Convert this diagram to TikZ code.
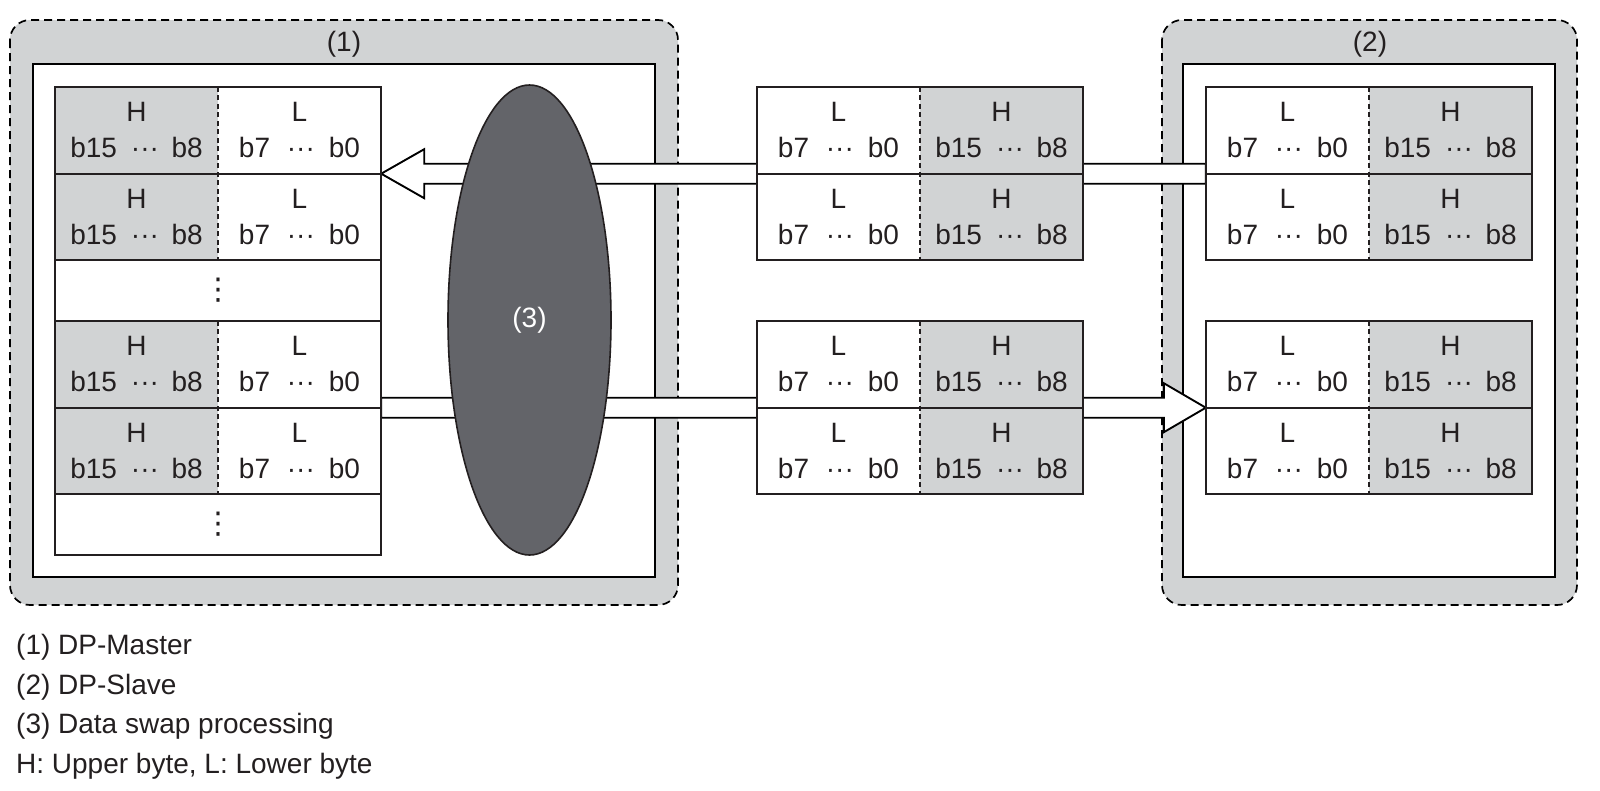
\documentclass[tikz,border=0pt]{standalone}
\usepackage{xcolor}
\usepackage{fontspec}
\setmainfont{Liberation Sans}
\newfontfamily\dotsfont{DejaVu Sans}
\usepackage{tikz}
\usetikzlibrary{shapes.geometric,calc}
\definecolor{ink}{RGB}{35,31,32}
\definecolor{bandgray}{RGB}{209,211,212}
\definecolor{swapgray}{RGB}{99,100,105}
\newcommand{\hibits}{b15\hspace{0.5em}···\hspace{0.45em}b8}
\newcommand{\lobits}{b7\hspace{0.6em}···\hspace{0.5em}b0}
\pgfdeclarelayer{boxes}
\pgfdeclarelayer{flows}
\pgfsetlayers{boxes,flows,main}

\begin{document}
\begin{tikzpicture}[x=1pt, y=-1pt, color=ink, font=\fontsize{28}{36}\selectfont,
    stationbox/.style={fill=bandgray, line width=1.7pt, dash pattern=on 8pt off 5pt, rounded corners=20pt},
    innerbox/.style={fill=white, line width=2.4pt},
    hcell/.style={fill=bandgray, minimum width=163pt, minimum height=86.5pt, inner sep=0pt, align=center},
    lcell/.style={hcell, fill=white},
    dotcell/.style={draw, line width=2.4pt, fill=white, minimum width=326pt, minimum height=61pt, inner sep=0pt, font=\dotsfont\fontsize{30}{30}\selectfont},
    rowframe/.style={line width=2.4pt},
    divider/.style={line width=1.8pt, dash pattern=on 5pt off 3.5pt},
    flowarrow/.style={fill=white, line width=1.9pt},
    swapnode/.style={ellipse, draw, line width=1.6pt, fill=swapgray, text=white, minimum width=163pt, minimum height=470pt, inner sep=0pt}]
    \useasboundingbox (0,0) rectangle (1600,790);

    \begin{pgfonlayer}{boxes}
    \draw[stationbox] (10,20) rectangle (678,605);
    \draw[innerbox] (33,64) rectangle (655,577);
    \node (master) at (344,44) {(1)};
    \draw[stationbox] (1162,20) rectangle (1577,605);
    \draw[innerbox] (1183,64) rectangle (1555,577);
    \node (slave) at (1370,44) {(2)};
    \end{pgfonlayer}

    % master words
    \node[hcell] (mh1) at (136.5,130.25) {H\\\hibits};
    \node[lcell] (ml1) at (299.5,130.25) {L\\\lobits};
    \node[hcell] (mh2) at (136.5,216.75) {H\\\hibits};
    \node[lcell] (ml2) at (299.5,216.75) {L\\\lobits};
    \node[dotcell] (md1) at (218,290.5) {⋮};
    \node[hcell] (mh4) at (136.5,364.25) {H\\\hibits};
    \node[lcell] (ml4) at (299.5,364.25) {L\\\lobits};
    \node[hcell] (mh5) at (136.5,450.75) {H\\\hibits};
    \node[lcell] (ml5) at (299.5,450.75) {L\\\lobits};
    \node[dotcell] (md2) at (218,524.5) {⋮};
    \draw[rowframe] (mh1.north west) rectangle (ml2.south east) (mh1.south west) -- (ml1.south east);
    \draw[rowframe] (mh4.north west) rectangle (ml5.south east) (mh4.south west) -- (ml4.south east);
    \draw[divider] (mh1.north east) -- (mh2.south east);
    \draw[divider] (mh4.north east) -- (mh5.south east);

    % words on the line
    \node[lcell] (xl1) at (838.5,130.25) {L\\\lobits};
    \node[hcell] (xh1) at (1001.5,130.25) {H\\\hibits};
    \node[lcell] (xl2) at (838.5,216.75) {L\\\lobits};
    \node[hcell] (xh2) at (1001.5,216.75) {H\\\hibits};
    \node[lcell] (xl3) at (838.5,364.25) {L\\\lobits};
    \node[hcell] (xh3) at (1001.5,364.25) {H\\\hibits};
    \node[lcell] (xl4) at (838.5,450.75) {L\\\lobits};
    \node[hcell] (xh4) at (1001.5,450.75) {H\\\hibits};
    \draw[rowframe] (xl1.north west) rectangle (xh2.south east) (xl1.south west) -- (xh1.south east);
    \draw[rowframe] (xl3.north west) rectangle (xh4.south east) (xl3.south west) -- (xh3.south east);
    \draw[divider] (xl1.north east) -- (xl2.south east);
    \draw[divider] (xl3.north east) -- (xl4.south east);

    % slave words
    \node[lcell] (sl1) at (1287.5,130.25) {L\\\lobits};
    \node[hcell] (sh1) at (1450.5,130.25) {H\\\hibits};
    \node[lcell] (sl2) at (1287.5,216.75) {L\\\lobits};
    \node[hcell] (sh2) at (1450.5,216.75) {H\\\hibits};
    \node[lcell] (sl3) at (1287.5,364.25) {L\\\lobits};
    \node[hcell] (sh3) at (1450.5,364.25) {H\\\hibits};
    \node[lcell] (sl4) at (1287.5,450.75) {L\\\lobits};
    \node[hcell] (sh4) at (1450.5,450.75) {H\\\hibits};
    \draw[rowframe] (sl1.north west) rectangle (sh2.south east) (sl1.south west) -- (sh1.south east);
    \draw[rowframe] (sl3.north west) rectangle (sh4.south east) (sl3.south west) -- (sh3.south east);
    \draw[divider] (sl1.north east) -- (sl2.south east);
    \draw[divider] (sl3.north east) -- (sl4.south east);

    \node[swapnode] (swap) at (529.5,320) {(3)};

    \begin{pgfonlayer}{flows}
    \draw[flowarrow] (ml1.south east) -- ++(43,-24.5) -- ++(0,14.5) -- ($(sl1.south west)+(0,-10)$)
        -- ($(sl1.south west)+(0,10)$) -- ($(ml1.south east)+(43,10)$) -- ++(0,14.5) -- cycle;
    \draw[flowarrow] (ml4.south east) -- ++(0,-10) -- ($(sl3.south west)+(-42,-10)$) -- ++(0,-14.5)
        -- (sl3.south west) -- ++(-42,24.5) -- ++(0,-14.5) -- ($(ml4.south east)+(0,10)$) -- cycle;
    \end{pgfonlayer}

    \node[anchor=north west, inner sep=0pt, align=left, font=\fontsize{28}{39.5}\selectfont] (legend) at (16,634)
        {(1) DP-Master\\(2) DP-Slave\\(3) Data swap processing\\H: Upper byte, L: Lower byte};
\end{tikzpicture}
\end{document}
